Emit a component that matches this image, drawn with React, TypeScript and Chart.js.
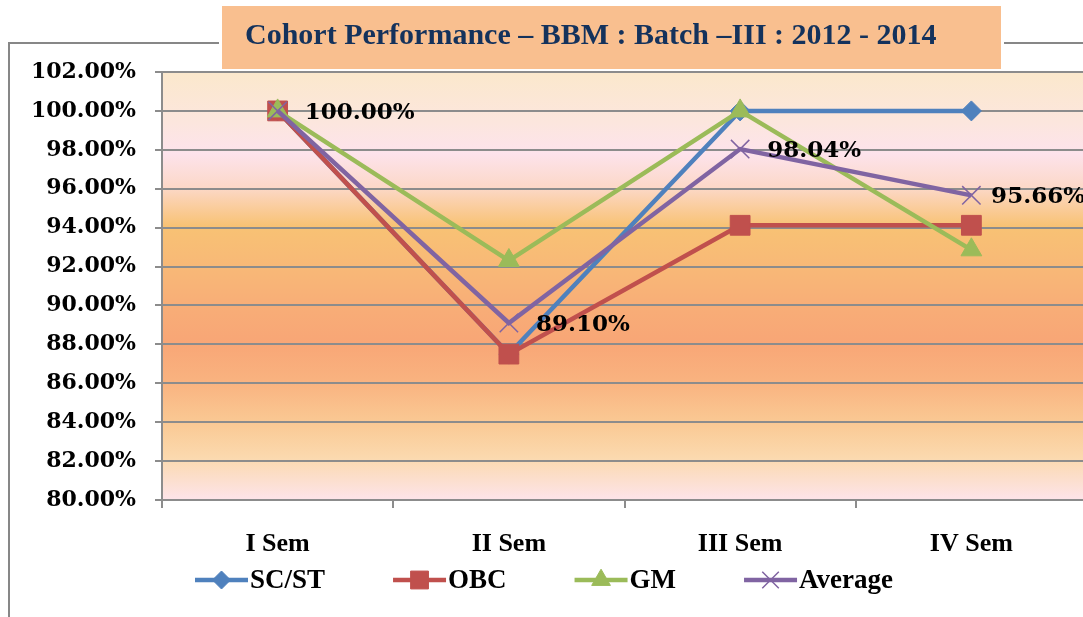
import React, { useEffect, useRef } from 'react';
import { Chart, registerables } from 'chart.js';
import { drawPoint } from 'chart.js/helpers';

Chart.register(...registerables);

const categories = ['I Sem', 'II Sem', 'III Sem', 'IV Sem'];
const scstValues = [100, 87.5, 100, 100];
const obcValues = [100, 87.5, 94.12, 94.12];
const gmValues = [100, 92.31, 100, 92.86];
const averageValues = [100, 89.1, 98.04, 95.66];
const seriesNames = ['SC/ST', 'OBC', 'GM', 'Average'];
const yMin = 80;
const yMax = 102;
const yStep = 2;
const titleText = 'Cohort Performance – BBM : Batch –III : 2012 - 2014';

const COLORS = ['#4F81BD', '#C0504D', '#9BBB59', '#8064A2'];
const STYLES: any[] = ['rectRot', 'rect', 'triangle', 'crossRot'];
const RADII = [10, 14, 12, 13];
const GRID = '#8C8C8C';
const TICK_FONT = { family: 'DejaVu Serif', weight: 'bold' as const, size: 22 };
const CAT_FONT = { family: 'Liberation Serif', weight: 'bold' as const, size: 26 };

const W = 1087;
const H = 617;

const framePlugin = {
  id: 'frame',
  beforeDraw(chart: any) {
    const { ctx, chartArea: a } = chart;
    ctx.save();
    ctx.fillStyle = '#ffffff';
    ctx.fillRect(0, 0, chart.width, chart.height);
    ctx.strokeStyle = '#878787';
    ctx.lineWidth = 2;
    ctx.beginPath();
    ctx.moveTo(9, H);
    ctx.lineTo(9, 43);
    ctx.lineTo(chart.width, 43);
    ctx.stroke();
    const g = ctx.createLinearGradient(0, a.top, 0, a.bottom);
    const stops: [number, string][] = [
      [0.0, '#FBE8CC'],
      [0.12, '#FCE6DE'],
      [0.19, '#FDE3EC'],
      [0.27, '#FCD8C8'],
      [0.36, '#F8C274'],
      [0.46, '#F8B877'],
      [0.55, '#F8AD77'],
      [0.63, '#F8A676'],
      [0.72, '#F9B27F'],
      [0.82, '#FAC994'],
      [0.9, '#FBD9AE'],
      [1.0, '#FDE4EA'],
    ];
    stops.forEach(([o, c]) => g.addColorStop(o, c));
    ctx.fillStyle = g;
    ctx.fillRect(a.left, a.top, a.right - a.left, a.bottom - a.top);
    ctx.restore();
  },
  afterDraw(chart: any) {
    const { ctx } = chart;
    ctx.save();
    ctx.fillStyle = '#ffffff';
    ctx.fillRect(219, 3, 785, 68);
    ctx.fillStyle = '#F9BF8F';
    ctx.fillRect(222, 6, 779, 63);
    ctx.fillStyle = '#14325C';
    ctx.font = 'bold 30px "Liberation Serif"';
    ctx.textAlign = 'left';
    ctx.textBaseline = 'middle';
    ctx.fillText(titleText, 245, 36);

    const meta = chart.getDatasetMeta(3);
    ctx.font = 'bold 23px "DejaVu Serif"';
    ctx.fillStyle = '#000000';
    meta.data.forEach((pt: any, i: number) => {
      const txt = averageValues[i].toFixed(2) + '%';
      const tw = ctx.measureText(txt).width;
      let x = pt.x + 27;
      if (x + tw > 1085) x = 1085 - tw;
      ctx.fillText(txt, x, pt.y + 2);
    });

    let x = 195;
    const cy = 580;
    ctx.font = 'bold 27px "Liberation Serif"';
    seriesNames.forEach((name, i) => {
      ctx.strokeStyle = COLORS[i];
      ctx.lineWidth = 4.5;
      ctx.beginPath();
      ctx.moveTo(x, cy);
      ctx.lineTo(x + 53, cy);
      ctx.stroke();
      ctx.fillStyle = COLORS[i];
      ctx.strokeStyle = COLORS[i];
      ctx.lineWidth = i === 3 ? 1.5 : 1;
      drawPoint(ctx, { pointStyle: STYLES[i], radius: RADII[i] * 0.9, borderWidth: i === 3 ? 1.5 : 1, rotation: 0 } as any, x + 26.5, cy);
      ctx.fillStyle = '#000000';
      ctx.textBaseline = 'middle';
      const tx = x + 55;
      ctx.fillText(name, tx, cy + 1);
      x = tx + ctx.measureText(name).width + 68;
    });
    ctx.restore();
  },
};

export default function App() {
  const ref = useRef<HTMLCanvasElement | null>(null);
  useEffect(() => {
    if (!ref.current) return;
    const seriesValues = [scstValues, obcValues, gmValues, averageValues];
    const chart = new Chart(ref.current, {
      type: 'line',
      data: {
        labels: categories,
        datasets: seriesValues.map((vals, i) => ({
          label: seriesNames[i],
          data: vals,
          borderColor: COLORS[i],
          backgroundColor: COLORS[i],
          borderWidth: 4.5,
          pointStyle: STYLES[i],
          pointRadius: RADII[i],
          pointHoverRadius: RADII[i],
          pointBackgroundColor: COLORS[i],
          pointBorderColor: COLORS[i],
          pointBorderWidth: i === 3 ? 1.5 : 1,
          tension: 0,
          fill: false,
          clip: false as any,
          order: 4 - i,
        })),
      },
      options: {
        responsive: false,
        animation: false,
        devicePixelRatio: 1,
        layout: { autoPadding: false, padding: { top: 72, left: 0, right: 0, bottom: 0 } },
        plugins: {
          legend: { display: false },
          title: { display: false },
          tooltip: { enabled: false },
        },
        scales: {
          x: {
            type: 'category',
            offset: true,
            afterFit(scale: any) {
              scale.height = 117;
              scale.paddingLeft = 0;
              scale.paddingRight = 0;
            },
            grid: {
              display: true,
              drawOnChartArea: false,
              drawTicks: true,
              tickLength: 8,
              color: GRID,
              lineWidth: 2,
              offset: true,
            },
            border: { display: true, color: GRID, width: 2 },
            ticks: { font: CAT_FONT, color: '#000000', padding: 21, maxRotation: 0 },
          },
          y: {
            min: yMin,
            max: yMax,
            afterFit(scale: any) {
              scale.width = 162;
            },
            grid: {
              color: GRID,
              lineWidth: 2,
              drawTicks: true,
              tickLength: 7,
            },
            border: { display: true, color: GRID, width: 2 },
            ticks: {
              stepSize: yStep,
              font: TICK_FONT,
              color: '#000000',
              padding: 19,
              callback: (v: any) => Number(v).toFixed(2) + '%',
            },
          },
        },
      },
      plugins: [framePlugin],
    });
    return () => chart.destroy();
  }, []);
  return (
    <div style={{ position: 'fixed', left: 0, top: 0, width: 1083, height: 617, overflow: 'hidden', background: '#fff' }}>
      <canvas ref={ref} width={W} height={H} style={{ width: W, height: H, display: 'block' }} />
    </div>
  );
}
